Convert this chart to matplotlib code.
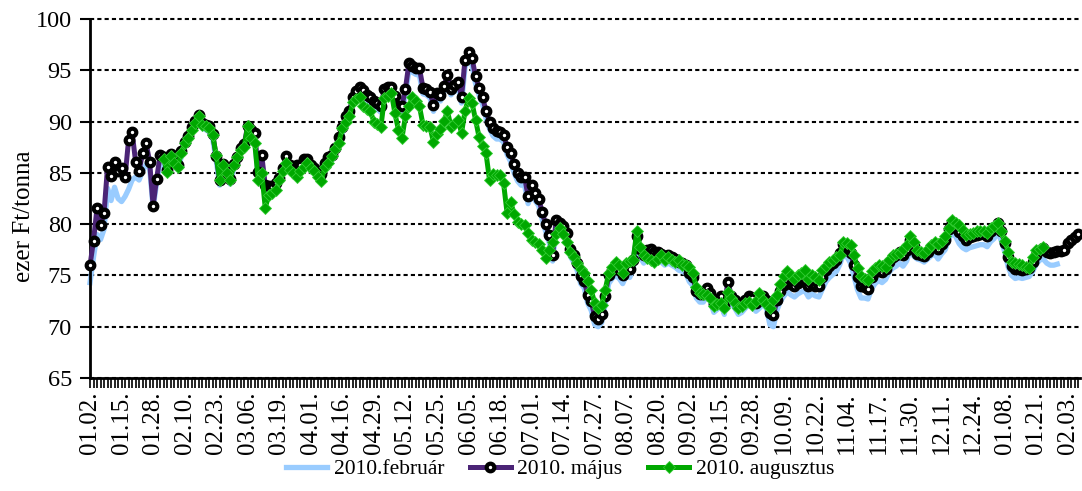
import matplotlib
matplotlib.use('Agg')
import matplotlib.pyplot as plt
import numpy as np

# napi elszámoló árak, ezer Ft/tonna (kereskedési napok)
tick_labels = ['01.02.', '01.15.', '01.28.', '02.10.', '02.23.', '03.06.', '03.19.', '04.01.',
               '04.16.', '04.29.', '05.12.', '05.25.', '06.05.', '06.18.', '07.01.', '07.14.',
               '07.27.', '08.07.', '08.20.', '09.02.', '09.15.', '09.28.', '10.09.', '10.22.',
               '11.04.', '11.17.', '11.30.', '12.11.', '12.24.', '01.08.', '01.21.', '02.03.']
tick_step = 9

feb = [
    74.3, 76.8, 79.0, 78.5, 79.5, 83.5, 82.3, 83.6, 82.5, 82.2,
    82.7, 83.4, 84.3, 84.6, 84.3, 85.2, 85.8, 85.5, 81.6, 84.0,
    86.0, 85.8, 84.8, 86.2, 85.7, 85.3, 86.5, 87.5, 88.2, 89.0,
    89.6, 90.2, 89.4, 89.2, 89.0, 88.3, 86.2, 83.8, 85.4, 84.8,
    83.9, 85.4, 86.0, 86.9, 87.3, 89.2, 88.4, 88.3, 84.6, 86.2,
    83.2, 83.0, 82.9, 83.4, 84.0, 84.9, 85.9, 85.2, 84.9, 84.5,
    85.0, 85.6, 85.8, 85.2, 84.9, 84.5, 84.2, 85.4, 85.9, 86.2,
    86.9, 87.8, 88.9, 89.8, 90.4, 91.8, 92.4, 92.8, 92.5, 92.0,
    91.8, 91.3, 91.2, 90.9, 92.6, 92.8, 92.8, 91.9, 90.9, 90.9,
    92.6, 95.0, 94.8, 94.6, 94.5, 92.7, 92.6, 92.3, 91.0, 92.2,
    92.0, 92.9, 93.9, 92.6, 93.0, 93.3, 91.8, 95.3, 96.1, 95.5,
    93.7, 92.6, 91.7, 90.3, 89.3, 88.6, 88.3, 88.3, 88.0, 86.8,
    86.1, 85.0, 84.2, 83.8, 83.8, 82.0, 83.0, 82.3, 81.8, 80.5,
    79.3, 78.2, 76.4, 79.6, 79.4, 79.1, 78.4, 76.9, 76.3, 75.5,
    74.2, 73.8, 72.3, 71.6, 70.2, 70.0, 70.4, 72.2, 74.2, 74.7,
    75.0, 74.7, 74.2, 75.0, 74.8, 75.7, 78.0, 76.8, 76.2, 76.6,
    76.8, 76.5, 76.5, 76.3, 76.0, 76.2, 76.0, 75.8, 75.5, 75.4,
    75.2, 74.4, 74.0, 72.8, 72.4, 72.4, 73.0, 72.5, 71.4, 71.7,
    72.2, 71.2, 73.6, 72.2, 71.8, 71.2, 71.4, 71.8, 72.2, 72.0,
    71.5, 71.8, 72.2, 71.8, 70.2, 70.0, 71.6, 72.5, 73.0, 73.4,
    73.1, 72.9, 73.2, 73.4, 73.5, 72.9, 73.2, 73.0, 72.9, 73.7,
    74.4, 74.8, 75.1, 75.4, 76.1, 77.1, 76.8, 76.2, 74.9, 73.6,
    72.8, 72.8, 72.7, 73.7, 74.2, 74.5, 74.3, 74.6, 75.3, 75.7,
    75.9, 76.2, 75.9, 76.4, 77.5, 76.9, 76.6, 76.5, 76.3, 76.6,
    76.9, 77.1, 76.6, 77.1, 77.5, 78.5, 79.2, 78.8, 78.1, 77.7,
    77.5, 77.7, 77.8, 77.9, 78.0, 78.0, 77.8, 78.3, 78.6, 79.2,
    78.4, 77.3, 75.8, 75.0, 74.7, 74.8, 74.7, 74.8, 74.9, 75.4,
    76.1, 76.5, 76.6, 76.2, 76.0, 76.0, 76.1,
]

may = [
    76.0, 78.4, 81.6, 79.9, 81.1, 85.6, 84.7, 86.1, 85.2, 85.5,
    84.6, 88.2, 89.0, 86.1, 85.2, 86.9, 87.9, 86.1, 81.8, 84.4,
    86.7, 86.5, 85.3, 86.8, 86.3, 85.8, 87.1, 88.0, 88.6, 89.5,
    90.1, 90.6, 89.9, 89.7, 89.6, 88.8, 86.6, 84.3, 85.9, 85.3,
    84.4, 85.9, 86.5, 87.4, 87.8, 89.6, 89.2, 88.9, 85.1, 86.7,
    83.8, 83.7, 83.6, 84.0, 84.5, 85.5, 86.6, 85.8, 85.5, 85.8,
    85.8, 86.4, 86.4, 85.8, 85.5, 85.2, 84.9, 86.0, 86.5, 86.7,
    87.4, 88.5, 89.5, 90.5, 91.0, 92.4, 93.0, 93.4, 93.1, 92.6,
    92.4, 92.0, 91.8, 91.5, 93.2, 93.4, 93.4, 92.5, 91.5, 91.5,
    93.2, 95.7, 95.4, 95.2, 95.2, 93.3, 93.2, 92.9, 91.6, 92.8,
    92.6, 93.5, 94.5, 93.2, 93.6, 93.9, 92.4, 96.0, 96.8, 96.2,
    94.4, 93.3, 92.4, 91.0, 90.0, 89.4, 89.1, 89.0, 88.7, 87.5,
    86.9, 85.9, 85.0, 84.6, 84.6, 82.7, 83.8, 83.0, 82.5, 81.2,
    80.0, 78.9, 77.0, 80.4, 80.1, 79.8, 79.1, 77.6, 77.0, 76.2,
    74.9, 74.5, 73.1, 72.5, 71.0, 70.8, 71.2, 73.0, 75.0, 75.5,
    75.8, 75.5, 75.0, 75.8, 75.6, 76.5, 78.8, 77.6, 77.0, 77.5,
    77.6, 77.3, 77.3, 77.1, 76.8, 77.0, 76.8, 76.6, 76.3, 76.2,
    76.0, 75.2, 74.8, 73.5, 73.2, 73.2, 73.8, 73.3, 72.2, 72.5,
    73.0, 72.0, 74.4, 73.0, 72.6, 72.0, 72.2, 72.6, 73.0, 72.8,
    72.3, 72.6, 73.0, 72.6, 71.3, 71.1, 72.6, 73.5, 74.1, 74.5,
    74.2, 74.0, 74.3, 74.5, 74.5, 74.0, 74.2, 74.0, 74.0, 74.8,
    75.5, 75.9, 76.2, 76.5, 77.2, 78.1, 77.8, 77.2, 76.0, 74.8,
    74.0, 73.9, 73.7, 74.8, 75.3, 75.5, 75.3, 75.6, 76.3, 76.8,
    77.0, 77.3, 77.0, 77.5, 78.5, 77.9, 77.1, 77.0, 76.9, 77.3,
    77.8, 78.0, 77.6, 78.1, 78.5, 79.5, 80.2, 79.8, 79.2, 78.8,
    78.5, 78.7, 78.8, 78.9, 79.0, 79.0, 78.8, 79.3, 79.6, 80.1,
    79.3, 78.2, 76.8, 75.9, 75.6, 75.6, 75.5, 75.6, 75.7, 76.3,
    77.0, 77.5, 77.7, 77.3, 77.2, 77.3, 77.4, 77.4, 77.5, 78.2,
    78.5, 78.7, 79.0,
]

aug_start = 21  # az augusztusi lejárat a 21. kereskedési naptól jegyzett
aug = [
    86.4, 85.1, 86.6, 86.0, 85.6, 86.9, 87.9, 88.4, 89.2,
    89.9, 90.5, 89.7, 89.6, 89.4, 88.7, 86.7, 84.3, 85.8, 85.0,
    84.3, 85.8, 86.5, 87.2, 87.5, 89.6, 88.4, 87.9, 84.3, 85.0,
    81.6, 82.8, 83.0, 83.3, 84.3, 85.2, 86.0, 85.3, 85.0, 84.6,
    85.2, 85.6, 86.0, 85.5, 85.2, 84.6, 84.2, 85.6, 86.0, 86.6,
    87.3, 87.9, 89.4, 90.0, 90.5, 91.9, 92.2, 92.4, 91.5, 91.2,
    91.0, 90.0, 89.8, 89.5, 92.3, 92.5, 92.8, 90.8, 89.2, 88.4,
    90.5, 91.5, 92.4, 92.0, 91.5, 89.7, 89.6, 89.5, 88.0, 88.8,
    89.3, 90.1, 91.0, 89.5, 89.8, 90.2, 88.9, 91.0, 92.3, 91.8,
    90.2, 88.5, 87.6, 86.9, 84.3, 84.9, 84.8, 84.8, 84.0, 81.1,
    82.2, 81.0, 80.2, 80.0, 79.9, 79.1, 78.5, 78.3, 78.1, 77.5,
    76.7, 77.5, 78.3, 79.0, 79.6, 79.0, 78.3, 77.3, 76.8, 76.2,
    75.6, 75.2, 74.5, 73.6, 72.3, 71.8, 72.1, 73.6, 75.2, 75.8,
    76.3, 76.0, 75.2, 76.2, 76.4, 76.5, 79.3, 77.8, 77.0, 76.7,
    76.5, 76.3, 76.6, 77.0, 76.5, 76.8, 76.5, 76.3, 76.5, 76.0,
    76.0, 75.8, 75.2, 73.9, 73.3, 73.2, 73.1, 72.8, 72.0, 72.2,
    72.3, 71.8, 73.4, 72.8, 72.3, 71.8, 72.0, 72.3, 72.4, 72.1,
    72.5, 73.3, 72.6, 72.2, 71.8, 72.6, 73.1, 74.2, 74.9, 75.4,
    75.0, 74.7, 75.0, 75.2, 75.5, 74.7, 75.0, 74.8, 74.6, 75.5,
    75.9, 76.3, 76.5, 76.8, 77.0, 78.3, 78.2, 78.0, 77.0, 75.7,
    74.9, 74.7, 74.6, 75.4, 75.7, 76.0, 75.9, 75.8, 76.5, 77.0,
    77.1, 77.2, 77.6, 78.0, 78.8, 78.3, 77.5, 77.3, 77.2, 77.6,
    78.0, 78.3, 78.1, 78.4, 78.8, 79.6, 80.4, 80.1, 79.9, 79.4,
    78.9, 79.0, 79.1, 79.3, 79.3, 79.3, 79.1, 79.6, 79.8, 80.1,
    79.3, 78.4, 77.3, 76.3, 76.2, 76.1, 76.0, 75.8, 75.7, 76.8,
    77.5, 77.6, 77.8,
]

plt.rcParams['font.family'] = ['Liberation Serif', 'DejaVu Serif']

fig = plt.figure(figsize=(10.82, 4.91), dpi=100)
ax = fig.add_axes([0.0832, 0.2301, 0.915, 0.7312])

ax.plot(np.arange(len(feb)), feb, color='#99ccff', lw=3.8, zorder=2,
        clip_on=False, label='2010.február')
ax.plot(np.arange(len(may)), may, color='#4b2476', lw=3.6, marker='o', ms=5.5,
        mfc='white', mec='black', mew=3, zorder=3, clip_on=False,
        label='2010. május')
ax.plot(np.arange(aug_start, aug_start + len(aug)), aug, color='#00a800', lw=3.6,
        marker='D', ms=6, mfc='#00a800', mec='#33cc33', mew=0.6, zorder=4,
        clip_on=False, label='2010. augusztus')

ax.set_ylim(65, 100)
ax.set_yticks(np.arange(65, 101, 5))
ax.set_xlim(0, 282.5)
ax.set_xticks(np.arange(len(tick_labels)) * tick_step)
ax.set_xticklabels(tick_labels, rotation=90)
ax.set_xticks(np.arange(0, 283), minor=True)
ax.tick_params(axis='x', which='both', direction='out', length=7, width=1.2,
               labelsize=18, pad=3)
ax.tick_params(axis='y', direction='out', length=7, width=1.5, labelsize=17.5,
               pad=6)

ax.grid(axis='y', color='black', lw=1.5, ls=(0, (2, 1.5)))
for gl in ax.get_ygridlines():
    gl.set_clip_on(False)
ax.set_axisbelow(True)
for s in ['top', 'right']:
    ax.spines[s].set_visible(False)
for s in ['left', 'bottom']:
    ax.spines[s].set_linewidth(2)

ax.set_ylabel('ezer Ft/tonna', fontsize=18)
ax.yaxis.set_label_coords(-0.056, 0.451)

fig.legend(loc='center', bbox_to_anchor=(0.5176, 0.044), ncol=3, frameon=False,
           fontsize=15.5, handlelength=1.9, columnspacing=1.2, handletextpad=0.3)

fig.savefig('out.png', dpi=100)
